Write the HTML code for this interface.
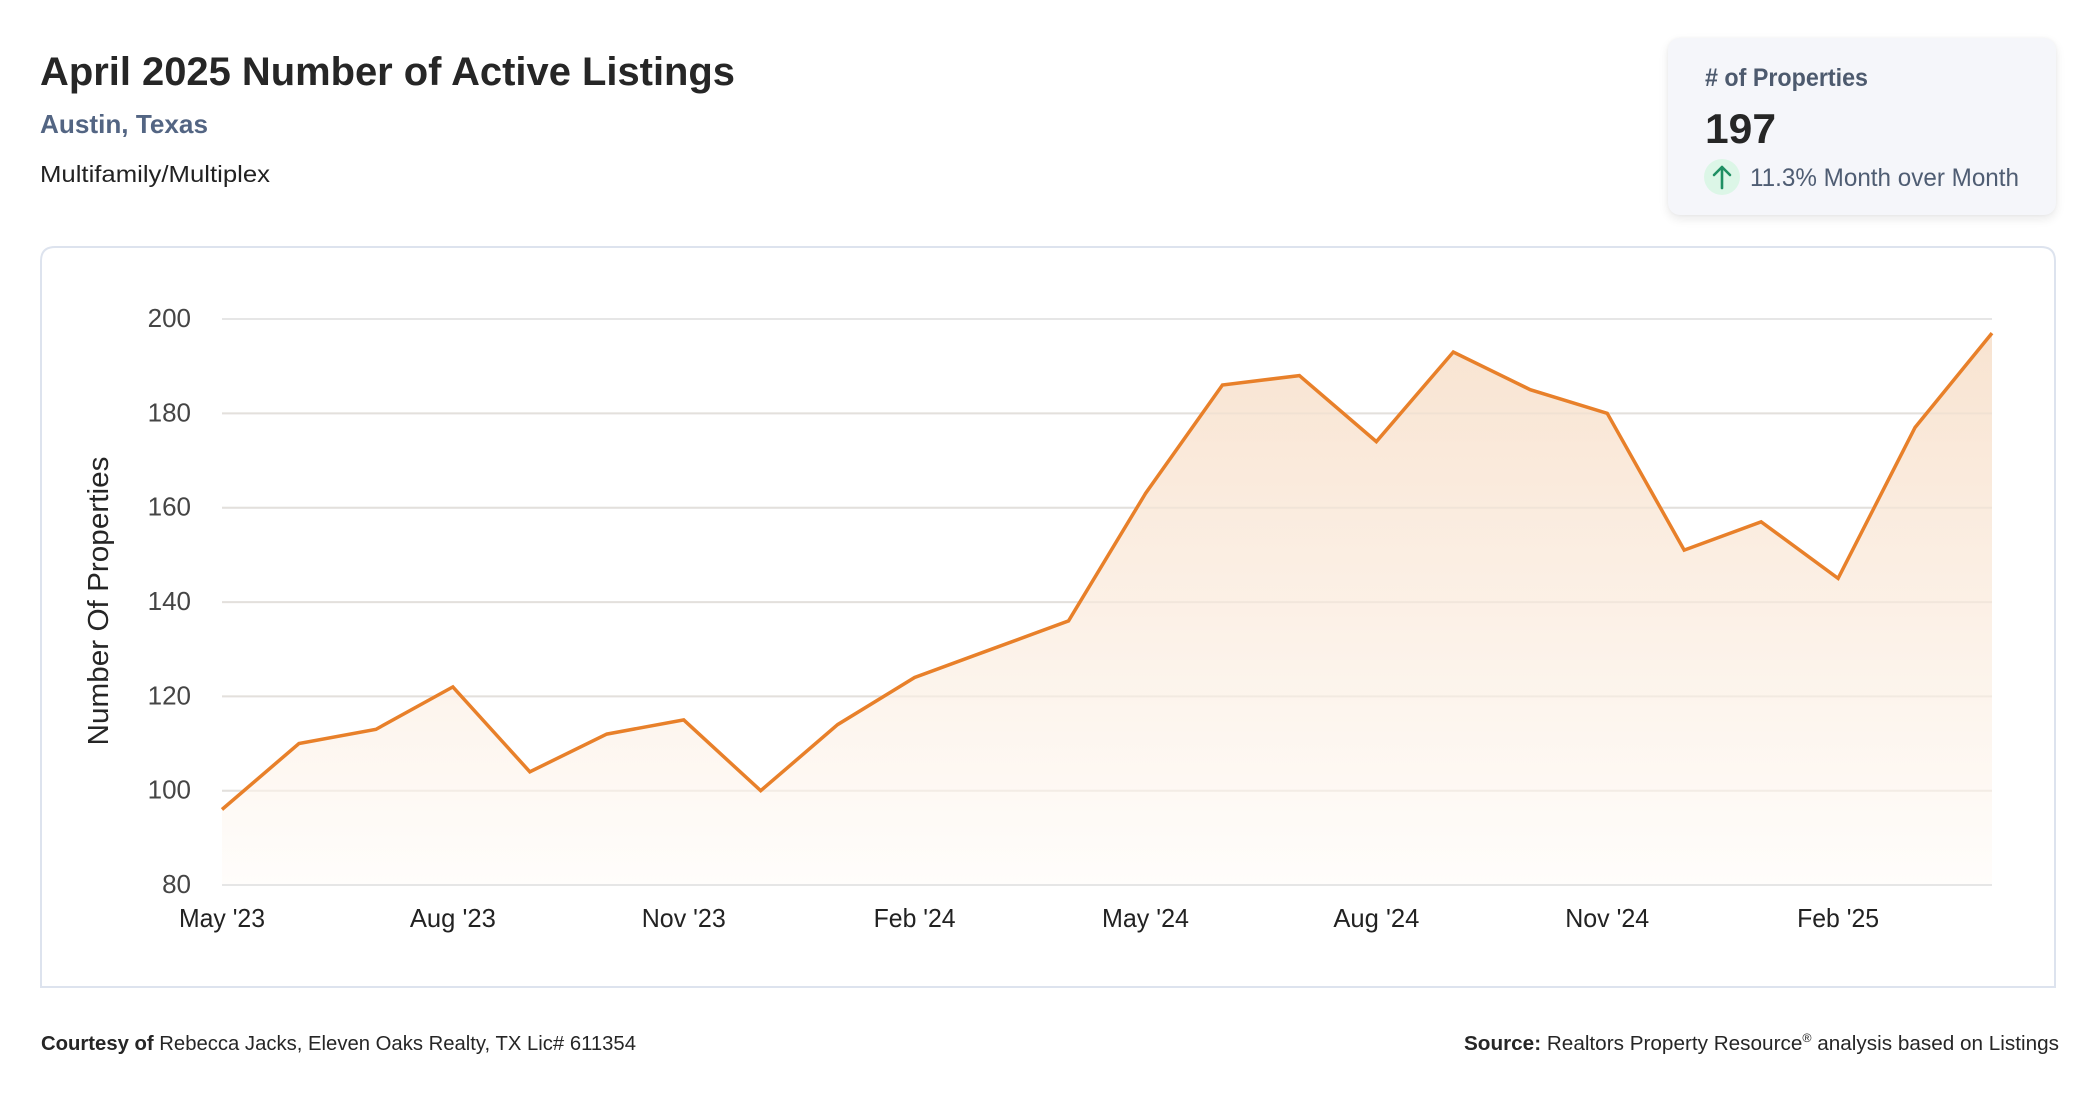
<!DOCTYPE html>
<html>
<head>
<meta charset="utf-8">
<style>
  html,body{margin:0;padding:0;background:#ffffff;}
  body{width:2096px;height:1100px;position:relative;overflow:hidden;font-family:"Liberation Sans",sans-serif;}
  .card{position:absolute;left:1668px;top:38px;width:388px;height:177px;background:#f5f6fa;border-radius:12px;box-shadow:0 4px 10px rgba(0,0,0,0.09),0 0 3px rgba(0,0,0,0.04);}
  svg{position:absolute;left:0;top:0;}
</style>
</head>
<body>
<div class="card"></div>
<svg width="2096" height="1100" viewBox="0 0 2096 1100" xmlns="http://www.w3.org/2000/svg">
  <defs>
    <linearGradient id="fillg" x1="0" y1="319" x2="0" y2="885" gradientUnits="userSpaceOnUse">
      <stop offset="0" stop-color="#f8e3d0"/>
      <stop offset="1" stop-color="#fffdfb"/>
    </linearGradient>
  </defs>

  <!-- Header -->
  <text x="40" y="85" font-family="Liberation Sans, sans-serif" font-weight="bold" font-size="40" fill="#262626" textLength="695" lengthAdjust="spacingAndGlyphs">April 2025 Number of Active Listings</text>
  <text x="40" y="133" font-family="Liberation Sans, sans-serif" font-weight="bold" font-size="26" fill="#536583" textLength="168" lengthAdjust="spacingAndGlyphs">Austin, Texas</text>
  <text x="40" y="182" font-family="Liberation Sans, sans-serif" font-size="23" fill="#222222" textLength="230" lengthAdjust="spacingAndGlyphs">Multifamily/Multiplex</text>

  <!-- KPI card contents -->
  <text x="1705" y="86" font-family="Liberation Sans, sans-serif" font-weight="bold" font-size="25" fill="#4d5a6e" textLength="163" lengthAdjust="spacingAndGlyphs"># of Properties</text>
  <text x="1705" y="143" font-family="Liberation Sans, sans-serif" font-weight="bold" font-size="42" fill="#262626" textLength="71" lengthAdjust="spacingAndGlyphs">197</text>
  <circle cx="1722" cy="177" r="18" fill="#dcf6e7"/>
  <g stroke="#1f8f63" stroke-width="2.6" fill="none" stroke-linecap="round" stroke-linejoin="round">
    <line x1="1722" y1="188" x2="1722" y2="167"/>
    <polyline points="1714,175 1722,167 1730,175"/>
  </g>
  <text x="1750" y="186" font-family="Liberation Sans, sans-serif" font-size="25" fill="#4f5d73" textLength="269" lengthAdjust="spacingAndGlyphs">11.3% Month over Month</text>

  <!-- Chart card -->
  <path d="M41,987 V261 Q41,247 55,247 H2041 Q2055,247 2055,261 V987 Z" fill="#ffffff" stroke="#dde3ee" stroke-width="2"/>

  <!-- Gridlines -->
  <g stroke="#e6e6e6" stroke-width="2">
    <line x1="222" y1="319" x2="1992" y2="319"/>
    <line x1="222" y1="413.4" x2="1992" y2="413.4"/>
    <line x1="222" y1="507.7" x2="1992" y2="507.7"/>
    <line x1="222" y1="602.1" x2="1992" y2="602.1"/>
    <line x1="222" y1="696.4" x2="1992" y2="696.4"/>
    <line x1="222" y1="790.7" x2="1992" y2="790.7"/>
    <line x1="222" y1="885" x2="1992" y2="885"/>
  </g>

  <!-- Area -->
  <path fill="url(#fillg)" d="M222,809.5 L298.96,743.5 L375.91,729.35 L452.87,686.9 L529.83,771.8 L606.78,734.1 L683.74,719.9 L760.7,790.7 L837.65,724.6 L914.61,677.5 L991.57,649.2 L1068.52,620.9 L1145.48,493.5 L1222.44,385 L1299.39,375.6 L1376.35,441.6 L1453.31,352 L1530.26,389.7 L1607.22,413.3 L1684.18,550.1 L1761.13,521.8 L1838.09,578.4 L1915.04,427.5 L1992,333.1 L1992,885 L222,885 Z"/>
  <!-- re-draw gridlines faintly over area -->
  <g stroke="#e0d6cc" stroke-width="2" opacity="0.35">
    <line x1="222" y1="413.4" x2="1992" y2="413.4"/>
    <line x1="222" y1="507.7" x2="1992" y2="507.7"/>
    <line x1="222" y1="602.1" x2="1992" y2="602.1"/>
    <line x1="222" y1="696.4" x2="1992" y2="696.4"/>
    <line x1="222" y1="790.7" x2="1992" y2="790.7"/>
  </g>
  <line x1="222" y1="885" x2="1992" y2="885" stroke="#e6e6e6" stroke-width="2"/>

  <!-- Line -->
  <polyline fill="none" stroke="#e8802a" stroke-width="3.5" stroke-linejoin="miter" stroke-linecap="butt" points="222,809.5 298.96,743.5 375.91,729.35 452.87,686.9 529.83,771.8 606.78,734.1 683.74,719.9 760.7,790.7 837.65,724.6 914.61,677.5 991.57,649.2 1068.52,620.9 1145.48,493.5 1222.44,385 1299.39,375.6 1376.35,441.6 1453.31,352 1530.26,389.7 1607.22,413.3 1684.18,550.1 1761.13,521.8 1838.09,578.4 1915.04,427.5 1992,333.1"/>

  <!-- Y tick labels -->
  <g font-family="Liberation Sans, sans-serif" font-size="26" fill="#454545" text-anchor="end">
    <text x="191" y="327">200</text>
    <text x="191" y="421.4">180</text>
    <text x="191" y="515.7">160</text>
    <text x="191" y="610.1">140</text>
    <text x="191" y="704.4">120</text>
    <text x="191" y="798.7">100</text>
    <text x="191" y="893">80</text>
  </g>

  <!-- Y axis title -->
  <text transform="translate(108,601) rotate(-90)" font-family="Liberation Sans, sans-serif" font-size="29" fill="#262626" text-anchor="middle" textLength="289" lengthAdjust="spacingAndGlyphs">Number Of Properties</text>

  <!-- X tick labels -->
  <g font-family="Liberation Sans, sans-serif" font-size="26" fill="#222222" text-anchor="middle">
    <text x="222" y="927" textLength="86" lengthAdjust="spacingAndGlyphs">May '23</text>
    <text x="452.87" y="927" textLength="86" lengthAdjust="spacingAndGlyphs">Aug '23</text>
    <text x="683.74" y="927" textLength="84" lengthAdjust="spacingAndGlyphs">Nov '23</text>
    <text x="914.61" y="927" textLength="82" lengthAdjust="spacingAndGlyphs">Feb '24</text>
    <text x="1145.48" y="927" textLength="87" lengthAdjust="spacingAndGlyphs">May '24</text>
    <text x="1376.35" y="927" textLength="86" lengthAdjust="spacingAndGlyphs">Aug '24</text>
    <text x="1607.22" y="927" textLength="84" lengthAdjust="spacingAndGlyphs">Nov '24</text>
    <text x="1838.09" y="927" textLength="82" lengthAdjust="spacingAndGlyphs">Feb '25</text>
  </g>

  <!-- Footer -->
  <text x="41" y="1050" font-family="Liberation Sans, sans-serif" font-size="20" fill="#262626" textLength="595" lengthAdjust="spacingAndGlyphs"><tspan font-weight="bold">Courtesy of</tspan> Rebecca Jacks, Eleven Oaks Realty, TX Lic# 611354</text>
  <text x="1464" y="1050" font-family="Liberation Sans, sans-serif" font-size="20" fill="#262626" textLength="595" lengthAdjust="spacingAndGlyphs"><tspan font-weight="bold">Source:</tspan> Realtors Property Resource<tspan font-size="12" dy="-8">®</tspan><tspan dy="8"> analysis based on Listings</tspan></text>
</svg>
</body>
</html>
